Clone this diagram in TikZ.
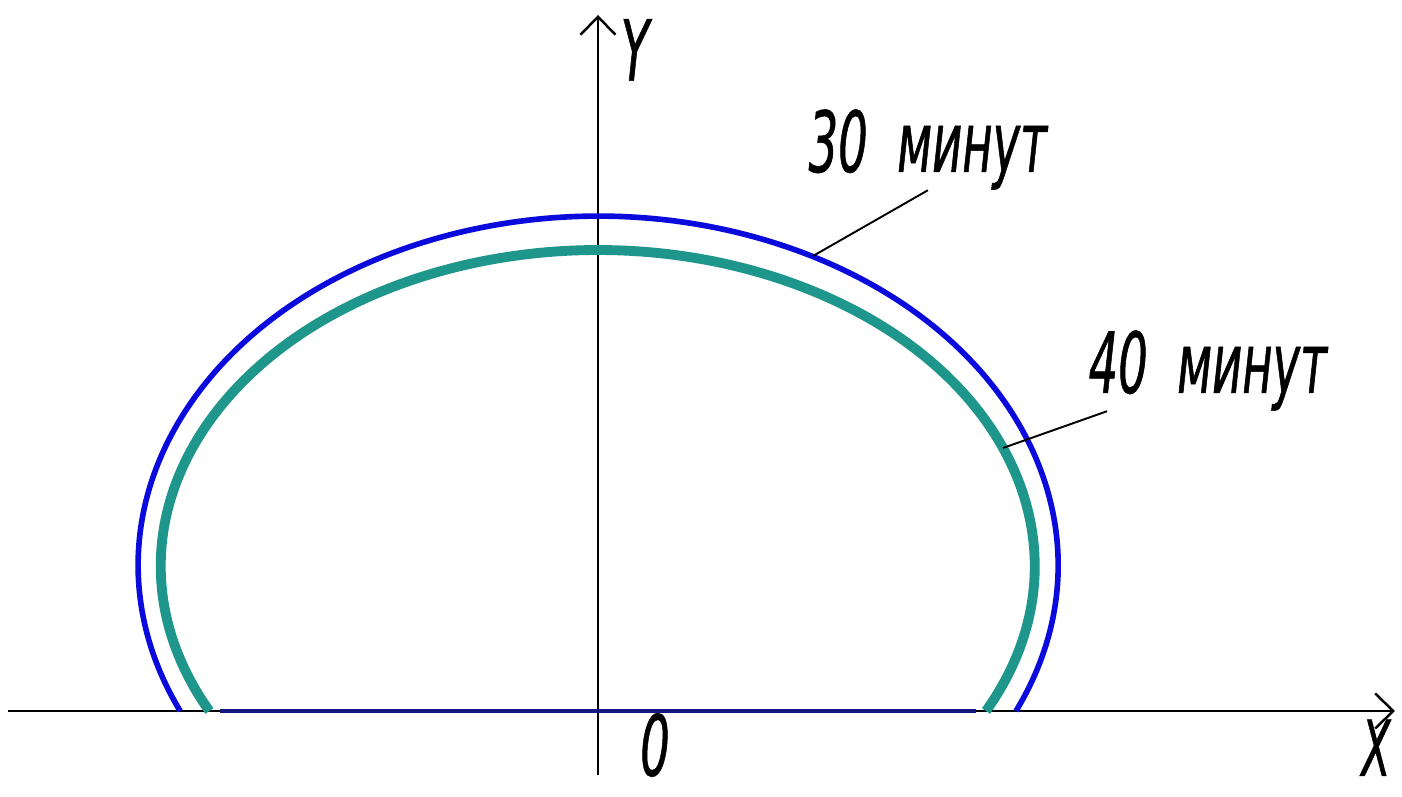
\documentclass[tikz,border=0pt]{standalone}
\usepackage{fontspec}
\setmainfont{DejaVu Sans}
\newfontfamily\plotfont[FakeStretch=0.55, FakeBold=0.6]{DejaVu Sans}
\usetikzlibrary{arrows.meta}
\definecolor{curveBlue}{HTML}{0A0ADC}
\definecolor{curveTeal}{HTML}{1F968C}
\definecolor{baseNavy}{HTML}{16167E}

\begin{document}
\begin{tikzpicture}[every node/.style={font=\plotfont\itshape\fontsize{24}{28}\selectfont, inner sep=0pt},
    axis/.style={line width=0.7pt, -{Straight Barb[length=1.8mm, width=3.5mm]}},
    leader/.style={line width=0.55pt, black}]
    \useasboundingbox (-5.98,-0.86) rectangle (8.04,7.11);
    \fill[white] (-5.98,-0.86) rectangle (8.04,7.11);

    % axes
    \coordinate (xstart) at (-5.90,0);
    \coordinate (xend) at (7.97,0);
    \coordinate (ystart) at (0,-0.64);
    \coordinate (yend) at (0,6.96);
    \draw[axis] (xstart) -- (xend);
    \draw[axis] (ystart) -- (yend);
    \node[anchor=base, font=\plotfont\itshape\fontsize{22}{26}\selectfont] (xlabel) at (7.78,-0.65) {X};
    \node (ylabel) at (0.37,6.61) {Y};
    \node (origin) at (0.57,-0.34) {0};

    % curves
    \draw[curveBlue, line width=1.6pt] (4.18,0) arc[start angle=-24.7, end angle=204.7, x radius=4.6, y radius=3.49];
    \draw[curveTeal, line width=2.8pt] (3.88,0) arc[start angle=-27.3, end angle=207.3, x radius=4.37, y radius=3.16];
    \coordinate (baseleft) at (-3.78,0);
    \coordinate (baseright) at (3.78,0);
    \draw[baseNavy, line width=1.4pt] (baseleft) -- (baseright);

    % labels
    \node[anchor=base west] (label30) at (2.10,5.39) {30\ \ минут};
    \node[anchor=base west] (label40) at (4.90,3.18) {40\ \ минут};
    \coordinate (on30) at (2.15,4.55);
    \coordinate (on40) at (4.05,2.63);
    \draw[leader] (on30) -- (label30.south);
    \draw[leader] (on40) -- ([xshift=0.19cm]label40.south west);
\end{tikzpicture}
\end{document}
